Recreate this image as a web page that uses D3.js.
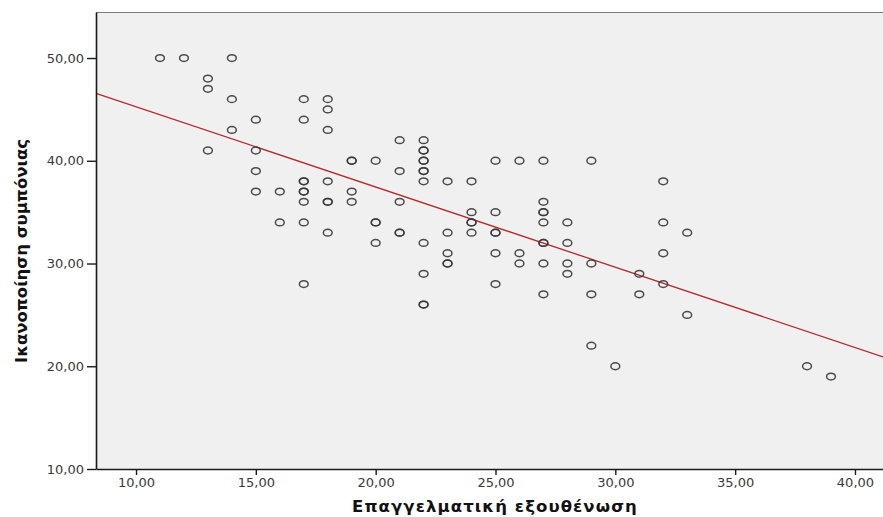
<!DOCTYPE html>
<html>
<head>
<meta charset="utf-8">
<script src="https://cdn.jsdelivr.net/npm/d3@7"></script>
<style>
  html, body { margin: 0; padding: 0; background: #fff; }
  svg { display: block; }
  .tick text { font-family: "DejaVu Sans", sans-serif; font-size: 13px; fill: #3a3a3a; }
  .title { font-family: "DejaVu Sans", sans-serif; font-weight: bold; font-size: 16.5px; fill: #111; }
</style>
</head>
<body>
<svg id="chart" width="883" height="517"></svg>
<script>
// Burnout (x) and compassion satisfaction (y) per respondent; repeated pairs are listed once per case
const burnout = [
  11, 12,
  13, 13, 13,
  14, 14, 14,
  15, 15, 15, 15,
  16, 16,
  17, 17, 17, 17, 17, 17, 17, 17, 17,
  18, 18, 18, 18, 18, 18, 18,
  19, 19, 19, 19,
  20, 20, 20, 20,
  21, 21, 21, 21, 21,
  22, 22, 22, 22, 22, 22, 22, 22, 22, 22, 22, 22,
  23, 23, 23, 23, 23,
  24, 24, 24, 24, 24,
  25, 25, 25, 25, 25, 25,
  26, 26, 26,
  27, 27, 27, 27, 27, 27, 27, 27, 27,
  28, 28, 28, 28,
  29, 29, 29, 29,
  30,
  31, 31,
  32, 32, 32, 32,
  33, 33,
  38, 39
];
const satisfaction = [
  50, 50,
  48, 47, 41,
  50, 46, 43,
  44, 41, 39, 37,
  37, 34,
  46, 44, 38, 38, 37, 37, 36, 34, 28,
  46, 45, 43, 38, 36, 36, 33,
  40, 40, 37, 36,
  40, 34, 34, 32,
  42, 39, 36, 33, 33,
  42, 41, 41, 40, 40, 39, 39, 38, 32, 29, 26, 26,
  38, 33, 31, 30, 30,
  38, 35, 34, 34, 33,
  40, 35, 33, 33, 31, 28,
  40, 31, 30,
  40, 36, 35, 35, 34, 32, 32, 30, 27,
  34, 32, 30, 29,
  40, 30, 27, 22,
  20,
  29, 27,
  38, 34, 31, 28,
  33, 25,
  20, 19
];

// Linear fit line: satisfaction = fitIntercept + fitSlope * burnout
const fitIntercept = 53.07;
const fitSlope = -0.781;

const xTicks = [10, 15, 20, 25, 30, 35, 40];
const yTicks = [10, 20, 30, 40, 50];
const xTitle = "Επαγγελματική εξουθένωση";
const yTitle = "Ικανοποίηση συμπόνιας";

const svg = d3.select("#chart");
const plot = { left: 96, right: 883, top: 12, bottom: 469 };

const x = d3.scaleLinear().domain([8.33, 41.17]).range([plot.left, plot.right]);
const y = d3.scaleLinear().domain([10, 54.48]).range([plot.bottom, plot.top]);

const fmt = v => d3.format(".2f")(v).replace(".", ",");

// plot background
svg.append("rect")
  .attr("x", plot.left).attr("y", plot.top)
  .attr("width", plot.right - plot.left).attr("height", plot.bottom - plot.top)
  .attr("fill", "#f0f0f0");

// top frame line
svg.append("line")
  .attr("x1", plot.left).attr("x2", plot.right)
  .attr("y1", plot.top + 0.5).attr("y2", plot.top + 0.5)
  .attr("stroke", "#7a7a7a").attr("stroke-width", 1.2);

// regression line
const lineGen = d3.line().x(d => x(d)).y(d => y(fitIntercept + fitSlope * d));
svg.append("path")
  .datum(x.domain())
  .attr("d", lineGen)
  .attr("fill", "none")
  .attr("stroke", "#b5282a")
  .attr("stroke-width", 1.3);

// points
svg.append("g")
  .selectAll("ellipse")
  .data(burnout.map((b, i) => [b, satisfaction[i]]))
  .join("ellipse")
  .attr("cx", d => x(d[0]))
  .attr("cy", d => y(d[1]))
  .attr("rx", 4.4)
  .attr("ry", 3.4)
  .attr("fill", "none")
  .attr("stroke", "#383838")
  .attr("stroke-opacity", 0.9)
  .attr("stroke-width", 1.5);

// axes
const xAxis = svg.append("g")
  .attr("transform", `translate(0,${plot.bottom})`)
  .call(d3.axisBottom(x).tickValues(xTicks).tickFormat(fmt).tickSize(6).tickSizeOuter(0).tickPadding(3));
const yAxis = svg.append("g")
  .attr("transform", `translate(${plot.left},0)`)
  .call(d3.axisLeft(y).tickValues(yTicks).tickFormat(fmt).tickSize(9).tickSizeOuter(0).tickPadding(3));

[xAxis, yAxis].forEach(g => {
  g.select(".domain").attr("stroke", "#1a1a1a").attr("stroke-width", 1.6);
  g.selectAll(".tick line").attr("stroke", "#1a1a1a").attr("stroke-width", 1.4);
  g.selectAll(".tick text").attr("fill", "#3a3a3a");
});

// axis titles
svg.append("text")
  .attr("class", "title")
  .attr("x", 495).attr("y", 512)
  .attr("text-anchor", "middle")
  .style("letter-spacing", "1.1px")
  .text(xTitle);

svg.append("text")
  .attr("class", "title")
  .attr("transform", "translate(27,251) rotate(-90)")
  .attr("text-anchor", "middle")
  .style("letter-spacing", "0px")
  .text(yTitle);
</script>
</body>
</html>
